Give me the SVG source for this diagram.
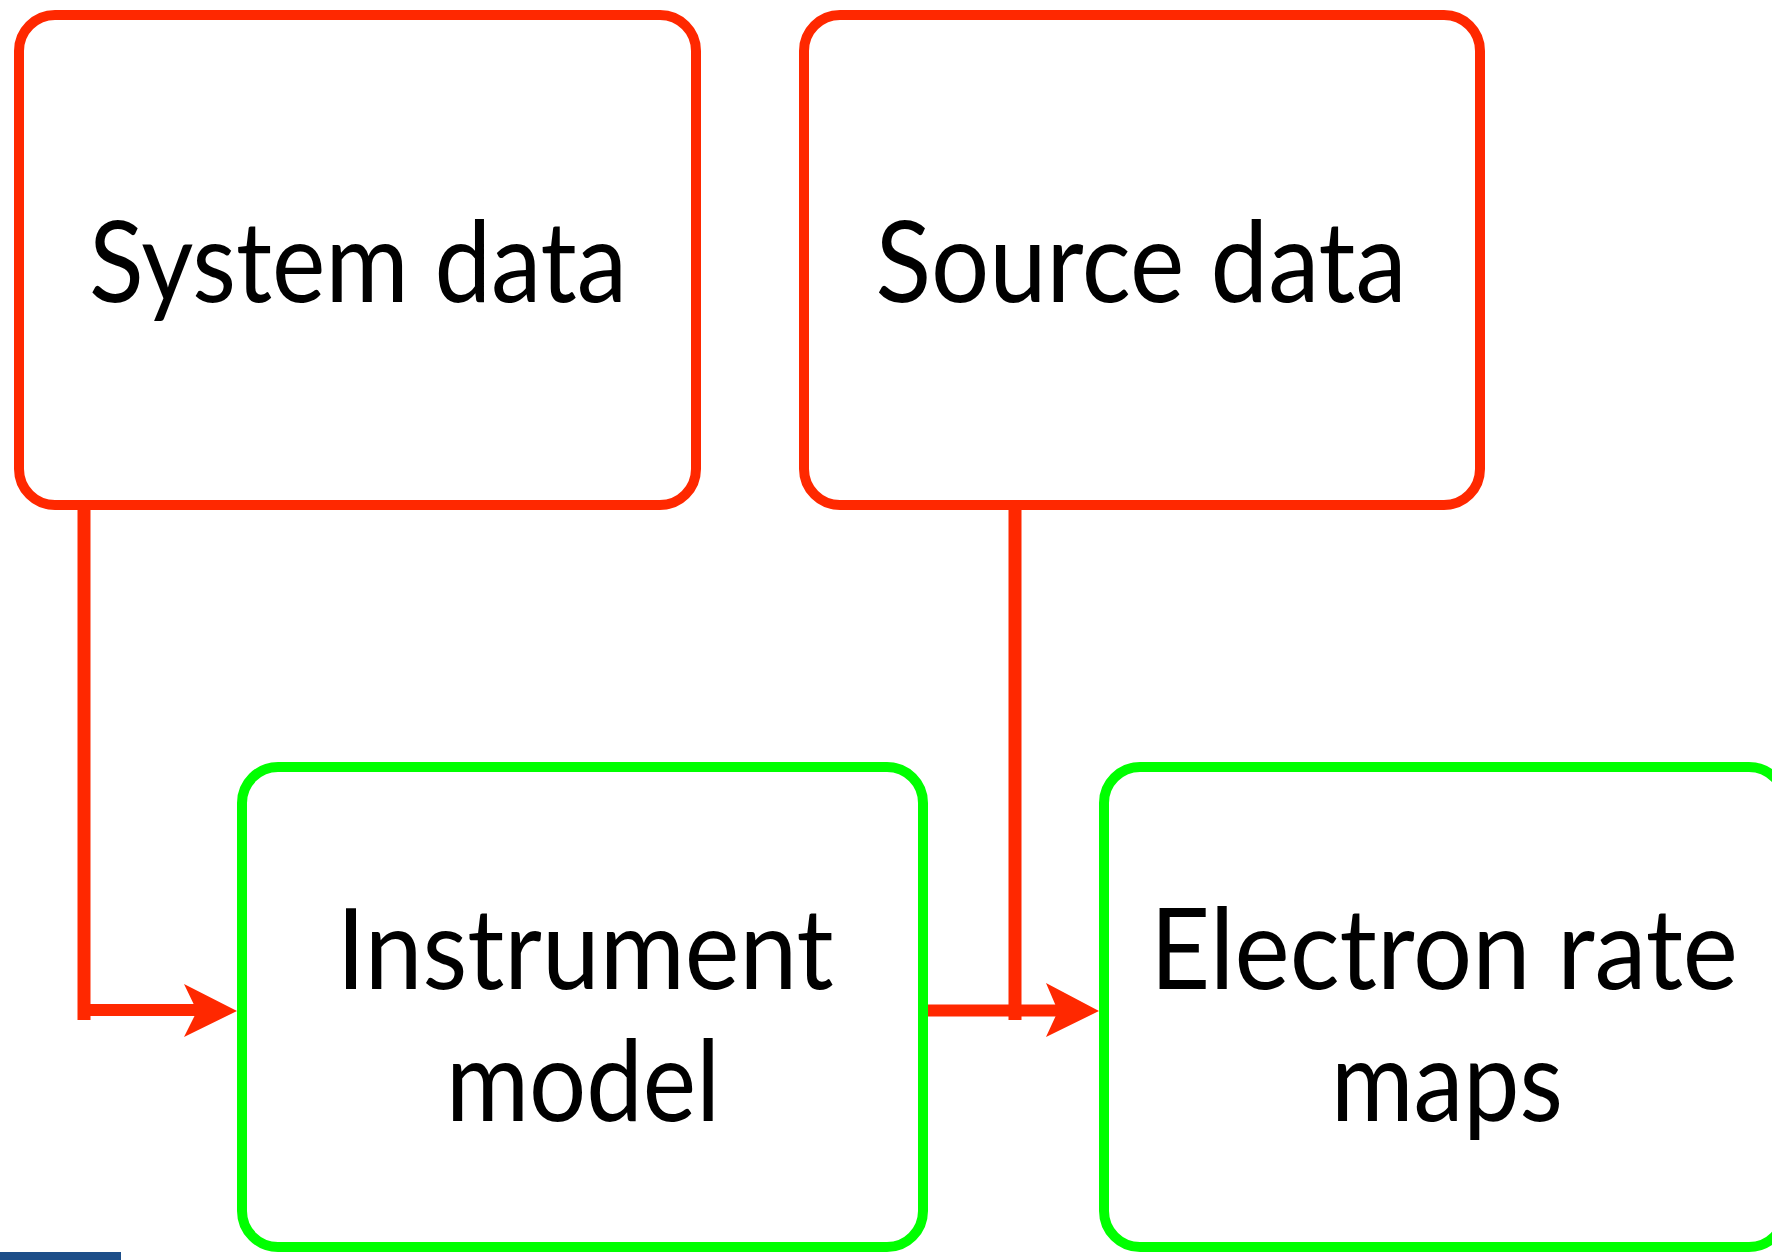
<svg xmlns="http://www.w3.org/2000/svg" width="1772" height="1260" viewBox="0 0 1772 1260">
<style>
.red{fill:#ffffff;stroke:#ff2800;stroke-width:10}
.green{fill:#ffffff;stroke:#00ff00;stroke-width:10}
.lbl{font-family:Lato,"Liberation Sans",sans-serif;font-size:112px;fill:#000000;text-anchor:middle}
.ln{stroke:#ff2800;fill:none}
.ah{fill:#ff2800;stroke:none}
</style>
<rect width="1772" height="1260" fill="#ffffff"/>
<g id="node-system-data">
<rect class="red" x="19" y="15" width="677" height="490" rx="36" ry="36"/>
<text class="lbl" x="358" y="302" textLength="538" lengthAdjust="spacingAndGlyphs">System data</text>
</g>
<g id="node-source-data">
<rect class="red" x="804" y="15" width="676" height="490" rx="36" ry="36"/>
<text class="lbl" x="1141" y="302" textLength="531" lengthAdjust="spacingAndGlyphs">Source data</text>
</g>
<g id="node-instrument-model">
<rect class="green" x="242" y="767" width="681" height="480" rx="36" ry="36"/>
<text class="lbl" x="585" y="989" textLength="497" lengthAdjust="spacingAndGlyphs">Instrument</text>
<text class="lbl" x="583" y="1121" textLength="274" lengthAdjust="spacingAndGlyphs">model</text>
</g>
<g id="node-electron-rate-maps">
<rect class="green" x="1104" y="767" width="681" height="480" rx="36" ry="36"/>
<text class="lbl" x="1444" y="989" textLength="588" lengthAdjust="spacingAndGlyphs">Electron rate</text>
<text class="lbl" x="1447" y="1121" textLength="232" lengthAdjust="spacingAndGlyphs">maps</text>
</g>
<g id="connectors">
<line class="ln" x1="84" y1="505" x2="84" y2="1020" stroke-width="13"/>
<line class="ln" x1="84" y1="1010" x2="200" y2="1010" stroke-width="12"/>
<polygon class="ah" points="237,1011 184,984 197,1011 184,1037"/>
<line class="ln" x1="1015" y1="505" x2="1015" y2="1020" stroke-width="13"/>
<line class="ln" x1="928" y1="1010.5" x2="1062" y2="1010.5" stroke-width="12"/>
<polygon class="ah" points="1099,1011 1046,983 1058,1011 1046,1037"/>
</g>
<rect x="0" y="1252" width="121" height="8" fill="#1d4e89"/>
</svg>
